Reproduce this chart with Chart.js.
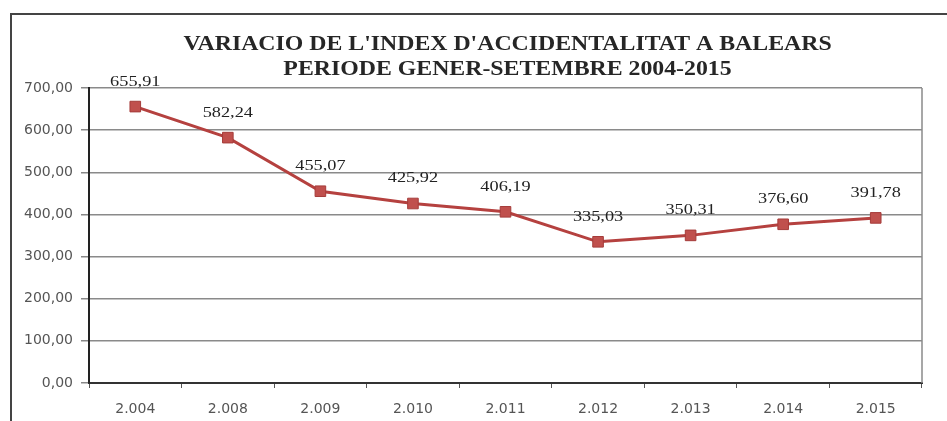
<!DOCTYPE html>
<html>
<head>
<meta charset="utf-8">
<script src="https://cdn.jsdelivr.net/npm/chart.js@4"></script>
<style>
  html, body { margin: 0; padding: 0; background: #fff; }
  #wrap { width: 947px; height: 421px; position: relative; }
</style>
</head>
<body>
<div id="wrap"><canvas id="c" width="947" height="421"></canvas></div>
<script>
const titleLines = ["VARIACIO DE L'INDEX D'ACCIDENTALITAT A BALEARS", "PERIODE GENER-SETEMBRE 2004-2015"];
const categories = ["2.004", "2.008", "2.009", "2.010", "2.011", "2.012", "2.013", "2.014", "2.015"];
const indexValues = [655.91, 582.24, 455.07, 425.92, 406.19, 335.03, 350.31, 376.60, 391.78];
const yTicks = { min: 0, max: 700, step: 100 };

function fmt(v) { return v.toFixed(2).replace('.', ','); }

function stretchedText(ctx, text, x, y, sx) {
  ctx.save();
  ctx.translate(x, y);
  ctx.scale(sx, 1);
  ctx.fillText(text, 0, 0);
  ctx.restore();
}

const framePlugin = {
  id: 'frame',
  beforeDraw(chart) {
    const ctx = chart.ctx;
    ctx.save();
    ctx.fillStyle = '#fff';
    ctx.fillRect(0, 0, chart.width, chart.height);
    ctx.strokeStyle = '#444';
    ctx.lineWidth = 2;
    ctx.beginPath();
    ctx.moveTo(11, chart.height);
    ctx.lineTo(11, 14);
    ctx.lineTo(chart.width, 14);
    ctx.stroke();
    ctx.restore();
  },
  afterDraw(chart) {
    const ctx = chart.ctx, a = chart.chartArea;
    ctx.save();
    ctx.strokeStyle = '#8a8a8a';
    ctx.lineWidth = 1.5;
    ctx.beginPath();
    ctx.moveTo(a.right, a.top);
    ctx.lineTo(a.right, a.bottom);
    ctx.stroke();
    // title
    ctx.fillStyle = '#262626';
    ctx.font = 'bold 20px "Liberation Serif"';
    ctx.textAlign = 'center';
    ctx.textBaseline = 'middle';
    const cx = (a.left + a.right) / 2 + 2;
    stretchedText(ctx, titleLines[0], cx, 45, 1.19);
    stretchedText(ctx, titleLines[1], cx, 70, 1.19);
    ctx.restore();
  }
};

const labelPlugin = {
  id: 'pointLabels',
  afterDatasetsDraw(chart) {
    const ctx = chart.ctx;
    const meta = chart.getDatasetMeta(0);
    ctx.save();
    ctx.fillStyle = '#222';
    ctx.font = '15px "Liberation Serif"';
    ctx.textAlign = 'center';
    ctx.textBaseline = 'middle';
    meta.data.forEach((pt, i) => {
      stretchedText(ctx, fmt(indexValues[i]), pt.x, pt.y - 25, 1.22);
    });
    ctx.restore();
  }
};

new Chart(document.getElementById('c'), {
  type: 'line',
  data: {
    labels: categories,
    datasets: [{
      data: indexValues,
      borderColor: '#B5413F',
      borderWidth: 3,
      backgroundColor: '#C0504D',
      pointStyle: 'rect',
      pointRadius: 7.5,
      pointBorderColor: '#A53C3A',
      pointBorderWidth: 1,
      pointBackgroundColor: '#C0504D',
      tension: 0
    }]
  },
  options: {
    responsive: false,
    animation: false,
    layout: { padding: { top: 88, right: 25, bottom: 2, left: 23 } },
    plugins: { legend: { display: false }, title: { display: false }, tooltip: { enabled: false } },
    scales: {
      x: {
        offset: true,
        grid: { offset: true, drawOnChartArea: false, drawTicks: true, tickLength: 5, color: '#555' },
        border: { color: '#333', width: 2 },
        ticks: { color: '#555', font: { family: 'DejaVu Sans', size: 14 }, padding: 13, maxRotation: 0 },
        afterFit(s) { s.height = 36; }
      },
      y: {
        min: yTicks.min, max: yTicks.max,
        grid: { color: '#8a8a8a', lineWidth: 1.5, tickLength: 8, tickColor: '#888' },
        border: { color: '#222', width: 2 },
        ticks: { stepSize: yTicks.step, color: '#555', font: { family: 'DejaVu Sans', size: 14 }, padding: 8,
          callback: v => fmt(v) },
        afterFit(s) { s.width = 66; }
      }
    }
  },
  plugins: [framePlugin, labelPlugin]
});
</script>
</body>
</html>
